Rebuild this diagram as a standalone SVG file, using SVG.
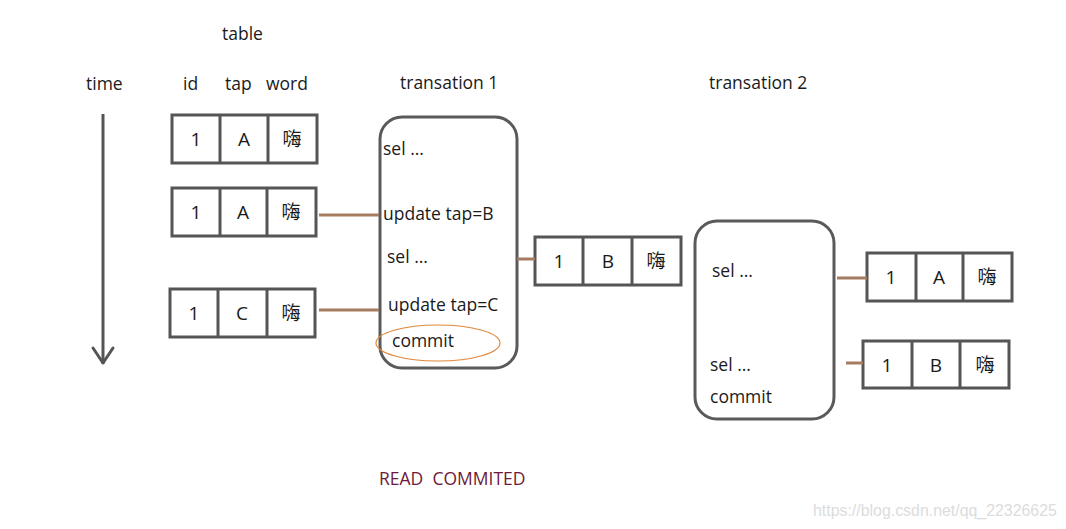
<svg xmlns="http://www.w3.org/2000/svg" width="1066" height="529" viewBox="0 0 1066 529">
<defs>
<style>
.t{font-family:"Open Sans","Noto Sans","Noto Sans CJK SC",sans-serif;font-size:17.5px;fill:#1a1a1a}
.c{font-family:"Open Sans","Noto Sans","Noto Sans CJK SC",sans-serif;font-size:19px;fill:#1a1a1a;text-anchor:middle}
.cell{fill:#fff;stroke:#555;stroke-width:3}
.div{stroke:#555;stroke-width:3}
.box{fill:#fff;stroke:#5a5a5a;stroke-width:3}
.conn{stroke:#a57c60;stroke-width:3;fill:none}
</style>
</defs>
<rect width="1066" height="529" fill="#fff"/>
<g id="labels">
<text class="t" x="222" y="40">table</text>
<text class="t" x="86" y="90">time</text>
<text class="t" x="183" y="90">id</text>
<text class="t" x="225" y="90">tap</text>
<text class="t" x="266" y="90">word</text>
<text class="t" x="400" y="89">transation 1</text>
<text class="t" x="709" y="89">transation 2</text>
<text x="379" y="485" xml:space="preserve" style="font-family:'Open Sans','Noto Sans',sans-serif;font-size:17.5px;fill:#6e1a3a;white-space:pre">READ  COMMITED</text>
<text x="813" y="516" style="font-family:'Liberation Sans',Arial,sans-serif;font-size:15.9px;fill:#dcdcdc">https://blog.csdn.net/qq_22326625</text>
</g>
<g id="time-arrow" fill="none" stroke="#555" stroke-width="3">
<line x1="103" y1="114" x2="103" y2="364"/>
<polyline points="93,348 103,363 113,348" stroke-linejoin="round" stroke-linecap="round"/>
</g>
<g id="row-1A-initial">
<rect class="cell" x="172" y="115" width="145" height="48"/>
<line class="div" x1="220" y1="115" x2="220" y2="163"/>
<line class="div" x1="268" y1="115" x2="268" y2="163"/>
<text class="c" x="196" y="146">1</text>
<text class="c" x="244" y="146">A</text>
<text class="c" x="292" y="146">嗨</text>
</g>
<g id="row-1A-before-update">
<rect class="cell" x="172" y="188" width="144" height="48"/>
<line class="div" x1="220" y1="188" x2="220" y2="236"/>
<line class="div" x1="267" y1="188" x2="267" y2="236"/>
<text class="c" x="196" y="219">1</text>
<text class="c" x="243" y="219">A</text>
<text class="c" x="291" y="219">嗨</text>
</g>
<g id="row-1C">
<rect class="cell" x="170" y="289" width="145" height="48"/>
<line class="div" x1="218" y1="289" x2="218" y2="337"/>
<line class="div" x1="267" y1="289" x2="267" y2="337"/>
<text class="c" x="194" y="320">1</text>
<text class="c" x="242" y="320">C</text>
<text class="c" x="291" y="320">嗨</text>
</g>
<g id="transaction-1">
<rect class="box" x="380" y="117" width="137" height="251" rx="22"/>
<text class="t" x="383" y="155">sel ...</text>
<text class="t" x="383" y="220">update tap=B</text>
<text class="t" x="387" y="263">sel ...</text>
<text class="t" x="388" y="311">update tap=C</text>
<text class="t" x="392" y="347">commit</text>
<ellipse cx="438" cy="343" rx="62" ry="18" fill="none" stroke="#e0873a" stroke-width="1.2"/>
</g>
<g id="row-1B">
<rect class="cell" x="535" y="237" width="146" height="48"/>
<line class="div" x1="583" y1="237" x2="583" y2="285"/>
<line class="div" x1="632" y1="237" x2="632" y2="285"/>
<text class="c" x="559" y="268">1</text>
<text class="c" x="608" y="268">B</text>
<text class="c" x="656" y="268">嗨</text>
</g>
<g id="transaction-2">
<rect class="box" x="695" y="221" width="139" height="198" rx="22"/>
<text class="t" x="712" y="277">sel ...</text>
<text class="t" x="710" y="371">sel ...</text>
<text class="t" x="710" y="403">commit</text>
</g>
<g id="row-1A-read">
<rect class="cell" x="867" y="253" width="145" height="48"/>
<line class="div" x1="916" y1="253" x2="916" y2="301"/>
<line class="div" x1="963" y1="253" x2="963" y2="301"/>
<text class="c" x="891" y="284">1</text>
<text class="c" x="939" y="284">A</text>
<text class="c" x="987" y="284">嗨</text>
</g>
<g id="row-1B-read">
<rect class="cell" x="863" y="341" width="146" height="47"/>
<line class="div" x1="912" y1="341" x2="912" y2="388"/>
<line class="div" x1="960" y1="341" x2="960" y2="388"/>
<text class="c" x="887" y="372">1</text>
<text class="c" x="936" y="372">B</text>
<text class="c" x="985" y="372">嗨</text>
</g>
<g id="connectors">
<line class="conn" x1="319" y1="215" x2="379" y2="215"/>
<line class="conn" x1="319" y1="310" x2="379" y2="310"/>
<line class="conn" x1="517" y1="259" x2="535" y2="259"/>
<line class="conn" x1="837" y1="278" x2="867" y2="278"/>
<line class="conn" x1="846" y1="363" x2="863" y2="363"/>
</g>
</svg>
